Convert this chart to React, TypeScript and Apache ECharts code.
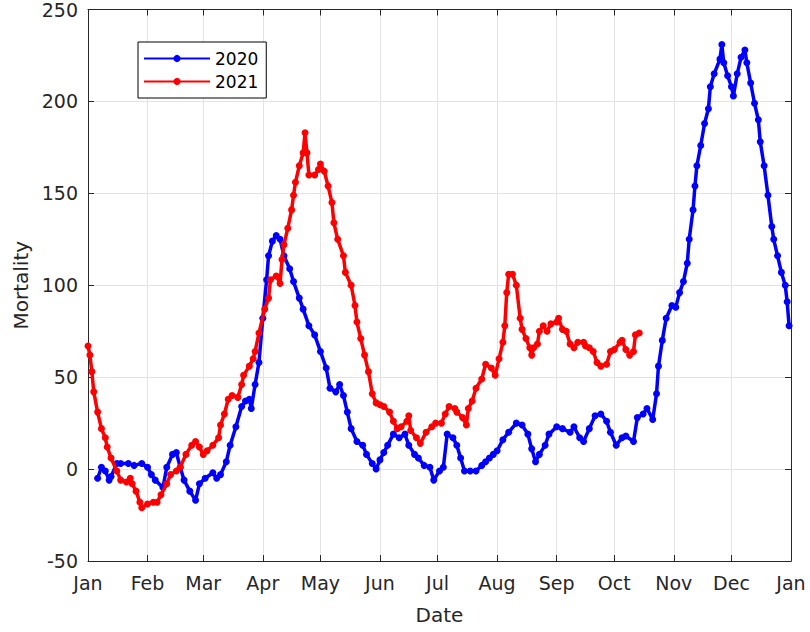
import React, { useEffect, useRef } from "react";
import * as echarts from "echarts";

// Day of year (0 = 1 Jan) at which each month starts (leap-year calendar, 2020)
const monthStarts = [0, 31, 60, 91, 121, 152, 182, 213, 244, 274, 305, 335, 366];
const monthNames = ["Jan", "Feb", "Mar", "Apr", "May", "Jun", "Jul", "Aug", "Sep", "Oct", "Nov", "Dec", "Jan"];
const yTicks = [-50, 0, 50, 100, 150, 200, 250];

const days2020 = [
  5, 7, 9, 11, 12, 15, 17, 21, 24, 28, 31, 33, 35, 39, 41, 44, 46, 48, 50, 53, 56, 58, 61, 65, 67, 69, 72, 74, 77, 80,
  82, 84, 85, 87, 89, 91, 93, 94, 96, 98, 100, 102, 105, 107, 110, 112, 115, 118, 121, 124, 126, 129, 131, 133, 135, 137,
  140, 143, 145, 148, 150, 152, 154, 156, 159, 162, 165, 167, 170, 172, 175, 178, 180, 183, 185, 187, 190, 192, 194, 196,
  199, 202, 205, 207, 209, 211, 213, 216, 219, 223, 226, 229, 231, 233, 235, 238, 240, 244, 247, 251, 253, 256, 258, 261,
  264, 267, 270, 272, 275, 278, 280, 284, 286, 289, 291, 294, 296, 297, 299, 301, 304, 306, 308, 310, 312, 313, 315, 316,
  317, 319, 321, 323, 324, 326, 329, 330, 331, 333, 335, 336, 338, 340, 342, 343, 345, 347, 349, 350, 352, 354, 356, 357,
  359, 361, 363, 364, 365,
];
const mort2020 = [
  -5, 1, -1, -6, -4, 3, 3, 3, 2, 3, 1, -3, -6, -10, 1, 8, 9, 1, -6, -12, -17, -8, -5, -2, -5, -3, 4, 13, 23, 34,
  37, 38, 33, 46, 58, 82, 103, 116, 124, 127, 125, 116, 109, 102, 93, 87, 78, 73, 64, 55, 44, 42, 46, 40, 31, 22,
  15, 13, 8, 3, 0, 5, 9, 13, 19, 17, 19, 13, 8, 6, 2, 1, -6, -1, 1, 19, 17, 13, 6, -1,
  -1, -1, 2, 4, 6, 8, 10, 16, 20, 25, 24, 19, 11, 4, 8, 13, 19, 23, 22, 20, 23, 17, 15, 22,
  29, 30, 26, 20, 13, 17, 18, 15, 28, 30, 33, 27, 41, 56, 70, 82, 89, 88, 96, 102, 112, 125, 141, 154,
  165, 176, 188, 196, 208, 215, 223, 231, 221, 214, 208, 203, 215, 224, 228, 221, 210, 199, 190, 178, 165, 149, 132, 125,
  116, 107, 100, 91, 78,
];

const days2021 = [
  0, 1, 2, 3, 5, 7, 9, 10, 12, 15, 17, 20, 22, 23, 25, 27, 28, 31, 34, 36, 38, 41, 43, 46, 48, 51, 54, 56, 58, 60,
  62, 65, 68, 69, 71, 73, 75, 78, 80, 81, 84, 86, 87, 89, 92, 94, 95, 98, 100, 101, 102, 104, 106, 107, 108, 110, 112,
  113, 114, 115, 118, 120, 121, 123, 125, 127, 128, 130, 133, 134, 137, 139, 140, 142, 144, 146, 148, 150, 152, 154, 157,
  159, 161, 163, 166, 167, 168, 171, 173, 176, 179, 181, 184, 186, 188, 191, 192, 195, 197, 198, 200, 202, 205, 207, 210,
  212, 214, 216, 217, 218, 219, 221, 223, 225, 226, 228, 230, 231, 232, 234, 235, 237, 239, 241, 244, 245, 247, 249, 251,
  253, 255, 258, 259, 261, 263, 265, 267, 270, 272, 274, 277, 278, 280, 282, 284, 285, 287,
];
const mort2021 = [
  67, 62, 53, 42, 31, 22, 17, 12, 6, -1, -6, -7, -5, -8, -12, -18, -21, -19, -18, -18, -14, -8, -3, -1, 1, 8, 13, 15, 12, 8,
  10, 13, 17, 24, 30, 38, 40, 39, 46, 51, 56, 60, 64, 74, 87, 93, 103, 105, 101, 114, 122, 131, 141, 149, 156, 165, 172,
  183, 172, 160, 160, 163, 166, 162, 154, 145, 134, 125, 116, 107, 100, 89, 80, 71, 62, 53, 41, 36, 35, 34, 31,
  26, 22, 23, 26, 29, 21, 17, 14, 20, 23, 25, 25, 30, 34, 33, 31, 28, 24, 33, 37, 44, 49, 57, 55,
  51, 60, 69, 78, 96, 106, 106, 100, 82, 76, 71, 66, 62, 66, 68, 75, 78, 75, 79, 80, 82, 76, 75, 68,
  66, 69, 69, 67, 66, 64, 58, 56, 57, 64, 65, 69, 70, 65, 62, 64, 73, 74,
];

const TEXT = "#262626";
const FONT = "'DejaVu Sans', Arial, sans-serif";
const GRID = "#e3e3e3";

export default function App() {
  const ref = useRef<HTMLDivElement>(null);
  useEffect(() => {
    if (!ref.current) return;
    const chart = echarts.init(ref.current, undefined, { renderer: "svg" });
    const pairs = (d: number[], v: number[]) => d.map((x, i) => [x, v[i]]);
    const monthLabel = (val: number) => {
      const i = monthStarts.indexOf(Math.round(val));
      return i >= 0 ? monthNames[i] : "";
    };
    const baseX = {
      type: "value",
      min: 0,
      max: 366,
      axisLine: { show: true, onZero: false, lineStyle: { color: TEXT, width: 1 } },
    };
    const baseY = {
      type: "value",
      min: yTicks[0],
      max: yTicks[yTicks.length - 1],
      interval: 50,
      axisLine: { show: true, onZero: false, lineStyle: { color: TEXT, width: 1 } },
    };
    chart.setOption({
      animation: false,
      backgroundColor: "#ffffff",
      textStyle: { fontFamily: FONT },
      grid: { left: 88, right: 19, top: 6, bottom: 71, containLabel: false },
      legend: {
        left: 138,
        top: 42,
        orient: "vertical",
        backgroundColor: "#ffffff",
        borderColor: "#000000",
        borderWidth: 1,
        borderRadius: 0,
        padding: [8, 8, 8, 5],
        itemGap: 6,
        itemWidth: 66,
        itemHeight: 9,
        textStyle: { fontSize: 17, color: "#000000", fontFamily: FONT },
        data: ["2020", "2021"],
      },
      xAxis: [
        {
          ...baseX,
          position: "bottom",
          name: "Date",
          nameLocation: "middle",
          nameGap: 44,
          nameTextStyle: { fontSize: 20, color: TEXT, fontFamily: FONT },
          axisTick: { show: true, inside: true, length: 6, customValues: monthStarts, lineStyle: { color: TEXT } },
          axisLabel: {
            show: true,
            customValues: monthStarts,
            formatter: monthLabel,
            margin: 12,
            fontSize: 19,
            color: TEXT,
            fontFamily: FONT,
          },
          splitLine: { show: true, lineStyle: { color: GRID, width: 1 } },
        },
        {
          ...baseX,
          position: "top",
          axisTick: { show: true, inside: true, length: 6, customValues: monthStarts, lineStyle: { color: TEXT } },
          axisLabel: { show: false },
          splitLine: { show: false },
        },
      ],
      yAxis: [
        {
          ...baseY,
          position: "left",
          name: "Mortality",
          nameLocation: "middle",
          nameGap: 56,
          nameRotate: 90,
          nameTextStyle: { fontSize: 20, color: TEXT, fontFamily: FONT },
          axisTick: { show: true, inside: true, length: 6, lineStyle: { color: TEXT } },
          axisLabel: { show: true, margin: 10, fontSize: 19, color: TEXT, fontFamily: FONT },
          splitLine: { show: true, lineStyle: { color: GRID, width: 1 } },
        },
        {
          ...baseY,
          position: "right",
          axisTick: { show: true, inside: true, length: 6, lineStyle: { color: TEXT } },
          axisLabel: { show: false },
          splitLine: { show: false },
        },
      ],
      series: [
        {
          name: "2020",
          type: "line",
          xAxisIndex: 0,
          yAxisIndex: 0,
          data: pairs(days2020, mort2020),
          symbol: "circle",
          symbolSize: 7,
          showSymbol: true,
          color: "#0000ff",
          lineStyle: { width: 3.5, color: "#0000ff" },
          itemStyle: { color: "#0000ff" },
          z: 3,
        },
        {
          name: "2021",
          type: "line",
          xAxisIndex: 0,
          yAxisIndex: 0,
          data: pairs(days2021, mort2021),
          symbol: "circle",
          symbolSize: 7,
          showSymbol: true,
          color: "#ff0000",
          lineStyle: { width: 3.5, color: "#ff0000" },
          itemStyle: { color: "#ff0000" },
          z: 4,
        },
      ],
    });
    return () => chart.dispose();
  }, []);
  return (
    <div
      ref={ref}
      style={{ width: 810, height: 632, position: "absolute", left: 0, top: 0, background: "#fff" }}
    />
  );
}
